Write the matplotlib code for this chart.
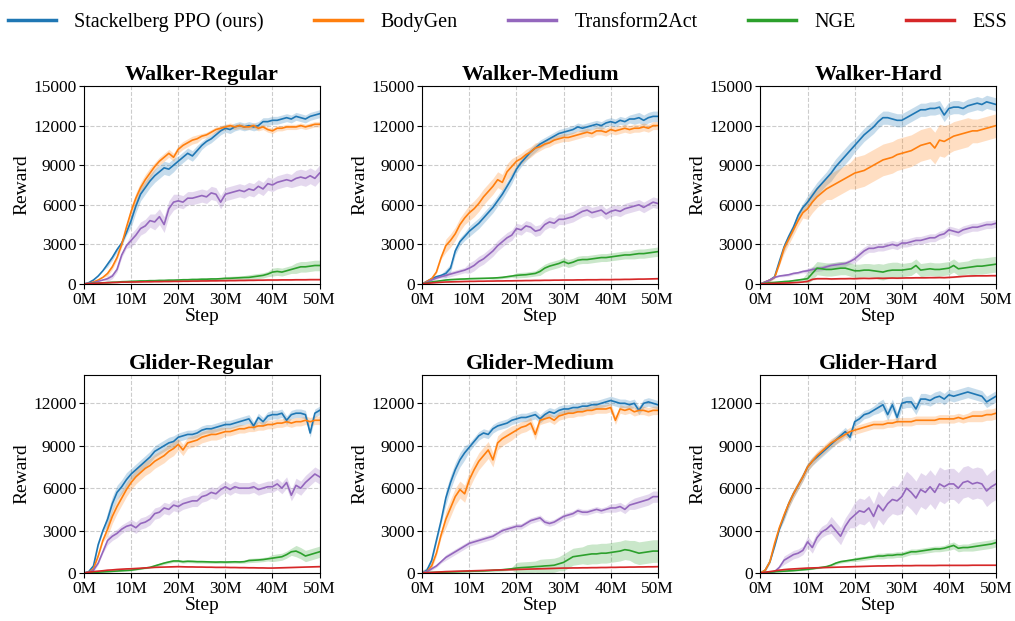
import numpy as np
import matplotlib
matplotlib.use("Agg")
import matplotlib.pyplot as plt

plt.rcParams['font.family'] = 'serif'
plt.rcParams['font.serif'] = ['Liberation Serif', 'DejaVu Serif']

steps = np.arange(51)  # millions of steps

method_names = ['Stackelberg PPO (ours)', 'BodyGen', 'Transform2Act', 'NGE', 'ESS']
method_colors = ['#1f77b4', '#ff7f0e', '#9467bd', '#2ca02c', '#d62728']
panel_titles = ['Walker-Regular', 'Walker-Medium', 'Walker-Hard',
                'Glider-Regular', 'Glider-Medium', 'Glider-Hard']

# ---------------- Walker-Regular ----------------
wr_sppo = [0, 100, 300, 600, 1000, 1500, 2000, 2600, 3100, 3900, 4800,
           5900, 6800, 7300, 7800, 8200, 8500, 8800, 8700, 9000, 9300,
           9600, 9900, 9700, 10100, 10500, 10800, 11000, 11300, 11600, 11800,
           11700, 11900, 12000, 11900, 12000, 11900, 12000, 12300, 12300, 12400,
           12400, 12500, 12600, 12500, 12700, 12600, 12500, 12700, 12800, 12900]
wr_bodygen = [0, 50, 150, 300, 500, 800, 1300, 2000, 3000, 4300, 5500,
              6500, 7300, 7900, 8400, 8900, 9300, 9600, 9900, 9600, 10200,
              10500, 10700, 10900, 11000, 11200, 11300, 11500, 11700, 11800, 11900,
              12000, 11900, 12000, 11900, 11900, 12000, 11800, 11900, 11700, 11600,
              11800, 11800, 11900, 11900, 11900, 12000, 11900, 12000, 12100, 12100]
wr_t2a = [0, 50, 100, 200, 300, 400, 600, 1100, 2200, 2900, 3300,
          3700, 4200, 4400, 4800, 4700, 5100, 4500, 5700, 6200, 6300,
          6200, 6500, 6500, 6600, 6700, 6600, 6900, 6800, 6200, 6800,
          6900, 7000, 7100, 7000, 7200, 7100, 7400, 7200, 7600, 7500,
          7700, 7800, 7900, 7800, 8000, 8100, 8000, 8200, 8000, 8400]
wr_nge = [0, 20, 50, 60, 90, 100, 130, 140, 170, 180, 200,
          210, 230, 230, 250, 250, 270, 270, 290, 290, 300,
          320, 320, 340, 340, 360, 360, 380, 380, 400, 420,
          430, 450, 470, 490, 500, 550, 600, 650, 750, 900,
          950, 900, 1000, 1100, 1200, 1300, 1300, 1350, 1400, 1400]
wr_ess = [0, 20, 40, 60, 80, 100, 110, 120, 140, 140, 150,
          150, 160, 170, 170, 180, 180, 190, 190, 200, 200,
          210, 210, 220, 220, 230, 230, 240, 240, 250, 250,
          260, 260, 270, 270, 280, 280, 290, 290, 300, 300,
          300, 310, 310, 310, 320, 320, 320, 330, 330, 330]

# ---------------- Walker-Medium ----------------
wm_sppo = [0, 200, 400, 550, 650, 800, 1200, 2500, 3200, 3600, 4000,
           4300, 4600, 5000, 5400, 5800, 6300, 6800, 7400, 8000, 8700,
           9200, 9600, 10000, 10300, 10600, 10800, 11000, 11200, 11400, 11500,
           11600, 11700, 11900, 11800, 11900, 12000, 12100, 12000, 12200, 12300,
           12200, 12400, 12300, 12500, 12500, 12600, 12400, 12600, 12700, 12700]
wm_bodygen = [0, 200, 400, 900, 2000, 2900, 3300, 3800, 4500, 5000, 5400,
              5700, 6100, 6600, 7000, 7400, 7900, 7700, 8500, 8900, 9300,
              9500, 9800, 10000, 10300, 10400, 10600, 10700, 10900, 11000, 11100,
              11100, 11200, 11300, 11400, 11500, 11400, 11600, 11600, 11500, 11700,
              11600, 11700, 11800, 11700, 11800, 11800, 11900, 11800, 12000, 12000]
wm_t2a = [0, 150, 300, 450, 550, 650, 750, 850, 950, 1050, 1200,
          1400, 1700, 1900, 2200, 2500, 2900, 3200, 3500, 3700, 4200,
          4100, 4400, 4300, 4000, 4100, 4500, 4700, 4600, 4900, 4900,
          5000, 5100, 5300, 5500, 5600, 5400, 5500, 5600, 5300, 5500,
          5600, 5500, 5700, 5800, 5900, 6000, 5800, 6000, 6200, 6100]
wm_nge = [0, 80, 150, 200, 250, 300, 330, 350, 370, 380, 400,
          410, 420, 430, 440, 450, 470, 500, 550, 600, 650,
          680, 700, 750, 800, 950, 1200, 1350, 1450, 1550, 1700,
          1550, 1650, 1800, 1850, 1850, 1900, 1950, 2000, 2000, 2050,
          2100, 2150, 2200, 2200, 2250, 2300, 2300, 2350, 2400, 2450]
wm_ess = [0, 50, 80, 110, 130, 150, 160, 170, 180, 190, 200,
          200, 210, 210, 220, 220, 230, 230, 240, 240, 250,
          250, 260, 260, 270, 270, 280, 280, 290, 290, 300,
          300, 300, 310, 310, 320, 320, 320, 330, 330, 330,
          340, 340, 350, 350, 360, 370, 370, 380, 390, 400]

# ---------------- Walker-Hard ----------------
wh_sppo = [0, 150, 300, 550, 1700, 2800, 3600, 4300, 5200, 5800, 6200,
           6700, 7200, 7600, 8000, 8400, 8900, 9300, 9700, 10100, 10500,
           10900, 11300, 11600, 11900, 12300, 12600, 12600, 12500, 12400, 12400,
           12600, 12800, 13000, 13200, 13200, 13300, 13300, 13400, 12800, 13300,
           13400, 13400, 13300, 13500, 13600, 13700, 13600, 13800, 13700, 13600]
wh_bodygen = [0, 150, 300, 500, 1500, 2700, 3400, 4100, 4800, 5400, 5700,
              6200, 6600, 6900, 7200, 7400, 7600, 7800, 8000, 8200, 8400,
              8500, 8600, 8800, 9000, 9200, 9400, 9500, 9600, 9800, 9900,
              10000, 10100, 10300, 10500, 10600, 10700, 10300, 10900, 10800, 11000,
              11200, 11300, 11400, 11500, 11600, 11600, 11700, 11800, 11900, 12000]
wh_t2a = [0, 150, 300, 500, 600, 650, 700, 800, 850, 950, 1000,
          1100, 1150, 1200, 1300, 1400, 1450, 1500, 1550, 1700, 1900,
          2200, 2500, 2700, 2700, 2800, 2800, 2900, 3000, 2900, 3100,
          3100, 3200, 3300, 3300, 3400, 3500, 3500, 3700, 3800, 4100,
          4000, 3900, 4100, 4200, 4300, 4300, 4400, 4500, 4500, 4600]
wh_nge = [0, 50, 100, 120, 150, 180, 200, 250, 300, 350, 400,
          800, 1200, 1150, 1100, 1100, 1150, 1200, 1200, 1100, 1000,
          1000, 1050, 1050, 1000, 950, 900, 1000, 1050, 1050, 1050,
          1100, 1150, 1400, 1050, 1100, 1150, 1100, 1100, 1150, 1200,
          1400, 1150, 1200, 1250, 1300, 1350, 1350, 1400, 1450, 1500]
wh_ess = [0, 20, 40, 50, 60, 70, 80, 100, 120, 150, 200,
          350, 400, 400, 400, 380, 390, 400, 400, 410, 400,
          420, 430, 420, 430, 440, 430, 440, 450, 440, 450,
          460, 460, 470, 470, 470, 480, 480, 490, 480, 500,
          520, 550, 580, 600, 610, 620, 620, 620, 630, 630]

# ---------------- Glider-Regular ----------------
gr_sppo = [0, 100, 500, 2000, 3000, 3800, 4900, 5700, 6100, 6600, 7000,
           7300, 7600, 7900, 8200, 8600, 8800, 9000, 9200, 9300, 9600,
           9700, 9800, 9800, 9900, 10100, 10200, 10200, 10300, 10400, 10500,
           10500, 10600, 10700, 10800, 10900, 10400, 11000, 10700, 11100, 11200,
           11200, 11300, 10800, 11200, 11300, 11300, 11200, 9900, 11300, 11500]
gr_bodygen = [0, 50, 300, 1200, 2300, 3100, 4000, 4700, 5300, 5900, 6400,
              6800, 7100, 7400, 7600, 7900, 8100, 8300, 8600, 8800, 9100,
              8700, 9200, 9300, 9400, 9600, 9700, 9800, 9800, 9900, 10000,
              10000, 10100, 10200, 10200, 10300, 10300, 10400, 10400, 10500, 10500,
              10600, 10600, 10700, 10600, 10700, 10700, 10800, 10700, 10800, 10800]
gr_t2a = [0, 50, 200, 700, 1500, 2300, 2600, 2800, 3100, 3300, 3400,
          3200, 3500, 3600, 3800, 4200, 4300, 4600, 4500, 4800, 4700,
          4900, 5000, 5100, 5100, 5400, 5500, 5700, 5600, 5900, 6100,
          5900, 6100, 6000, 6000, 6000, 6100, 5900, 6000, 6100, 6100,
          6300, 6000, 6400, 5500, 6200, 6000, 6400, 6700, 7000, 6800]
gr_nge = [0, 20, 40, 60, 80, 100, 120, 140, 160, 180, 200,
          250, 300, 350, 400, 500, 600, 700, 780, 850, 850,
          800, 830, 820, 800, 800, 790, 780, 770, 780, 770,
          780, 790, 780, 800, 880, 900, 920, 950, 1000, 1050,
          1100, 1150, 1300, 1500, 1550, 1400, 1200, 1300, 1400, 1500]
gr_ess = [0, 50, 100, 130, 160, 200, 220, 250, 270, 290, 300,
          320, 340, 360, 380, 400, 410, 420, 430, 440, 450,
          440, 430, 430, 420, 420, 410, 410, 400, 400, 400,
          390, 390, 380, 380, 370, 370, 360, 360, 350, 350,
          360, 370, 380, 390, 400, 410, 420, 430, 440, 450]

# ---------------- Glider-Medium ----------------
gm_sppo = [0, 200, 900, 2300, 3700, 5300, 6400, 7300, 8000, 8500, 8900,
           9300, 9700, 9900, 9800, 10200, 10400, 10500, 10600, 10800, 10900,
           11000, 11000, 11100, 11200, 10900, 11200, 11400, 11300, 11500, 11600,
           11600, 11700, 11700, 11800, 11800, 11900, 11900, 12000, 12100, 12200,
           12100, 12000, 12000, 11900, 12000, 11500, 12000, 12100, 12000, 11900]
gm_bodygen = [0, 100, 500, 1400, 2700, 3800, 4600, 5400, 5900, 5600, 6600,
              7300, 7900, 8300, 8700, 8000, 9200, 9500, 9700, 9900, 10100,
              10300, 10400, 10600, 9800, 10800, 10900, 11000, 10800, 11100, 11200,
              11300, 11300, 11400, 11400, 11500, 11500, 11600, 11600, 11600, 11700,
              10800, 11600, 11500, 11600, 11400, 11500, 11500, 11400, 11500, 11500]
gm_t2a = [0, 100, 300, 500, 800, 1100, 1300, 1500, 1700, 1900, 2100,
          2200, 2300, 2400, 2500, 2600, 2800, 3000, 3100, 3200, 3300,
          3300, 3500, 3700, 3800, 3900, 3600, 3500, 3600, 3800, 4000,
          4100, 4200, 4400, 4300, 4300, 4400, 4500, 4400, 4500, 4600,
          4600, 4700, 4500, 4800, 4900, 5000, 5100, 5200, 5400, 5400]
gm_nge = [0, 20, 40, 50, 60, 70, 80, 90, 100, 110, 120,
          130, 140, 150, 170, 190, 210, 230, 260, 300, 350,
          380, 400, 420, 450, 470, 500, 520, 550, 650, 750,
          950, 1150, 1200, 1250, 1300, 1350, 1350, 1400, 1400, 1450,
          1500, 1550, 1650, 1600, 1500, 1400, 1450, 1500, 1550, 1550]
gm_ess = [0, 20, 40, 60, 80, 100, 110, 120, 130, 140, 150,
          160, 170, 180, 190, 200, 210, 220, 230, 240, 250,
          260, 270, 280, 290, 300, 310, 320, 330, 340, 350,
          350, 360, 360, 370, 370, 380, 380, 390, 390, 400,
          400, 410, 410, 420, 420, 430, 430, 440, 440, 450]

# ---------------- Glider-Hard ----------------
gh_sppo = [0, 200, 800, 1900, 3100, 4000, 4900, 5600, 6200, 6800, 7500,
           7900, 8200, 8500, 8800, 9100, 9400, 9700, 10000, 9600, 10700,
           10900, 11200, 11300, 11500, 11700, 11900, 11200, 11900, 11000, 12000,
           12100, 12100, 11600, 12300, 12300, 12200, 12400, 12500, 12300, 12600,
           12500, 12600, 12700, 12800, 12700, 12600, 12500, 12100, 12300, 12500]
gh_bodygen = [0, 200, 800, 2100, 3200, 4100, 4900, 5600, 6200, 6800, 7500,
              7900, 8300, 8600, 8900, 9200, 9400, 9600, 9800, 10000, 10100,
              10200, 10300, 10400, 10500, 10500, 10500, 10600, 10600, 10700, 10700,
              10700, 10700, 10800, 10800, 10800, 10800, 10800, 10900, 10900, 10900,
              10900, 11000, 10900, 11000, 11100, 11100, 11100, 11200, 11200, 11300]
gh_t2a = [0, 30, 60, 100, 400, 900, 1100, 1300, 1400, 1600, 2200,
          1800, 2500, 2900, 3100, 3400, 3000, 2600, 3300, 3800, 4100,
          4400, 4300, 4600, 4000, 4800, 4400, 4900, 5200, 5100, 5400,
          6000, 5700, 5300, 5900, 5700, 6100, 5700, 6300, 6100, 6300,
          6300, 6000, 6400, 6500, 6300, 6400, 6300, 5800, 6100, 6300]
gh_nge = [0, 30, 60, 90, 110, 130, 150, 170, 200, 230, 260,
          300, 350, 400, 450, 550, 700, 800, 850, 900, 950,
          1000, 1050, 1100, 1150, 1200, 1200, 1250, 1250, 1300, 1300,
          1400, 1500, 1500, 1550, 1600, 1650, 1700, 1700, 1750, 1850,
          1950, 1750, 1800, 1800, 1850, 1900, 1950, 2000, 2050, 2150]
gh_ess = [0, 50, 100, 150, 200, 240, 270, 290, 310, 330, 350,
          360, 370, 380, 390, 400, 410, 420, 430, 440, 450,
          460, 470, 480, 490, 500, 500, 510, 510, 520, 520,
          520, 520, 530, 530, 530, 530, 530, 540, 540, 540,
          540, 540, 540, 540, 550, 550, 550, 550, 550, 550]

# shaded band half-widths, one value per 5M block (last value covers 50M)
wr_spread = [[0, 200, 500, 500, 400, 300, 300, 300, 300, 300, 300],
             [0, 200, 400, 300, 300, 200, 200, 200, 200, 200, 200],
             [0, 200, 500, 600, 500, 500, 500, 500, 500, 600, 600],
             [0, 50, 50, 50, 100, 100, 150, 200, 300, 400, 400],
             [0, 30, 50, 50, 50, 50, 50, 50, 50, 50, 50]]
wm_spread = [[100, 300, 400, 400, 300, 300, 300, 300, 300, 400, 400],
             [100, 500, 600, 600, 400, 300, 300, 300, 300, 300, 300],
             [100, 200, 400, 400, 400, 400, 400, 400, 400, 400, 400],
             [50, 50, 50, 100, 200, 300, 300, 300, 300, 350, 350],
             [20, 30, 30, 30, 30, 30, 30, 30, 30, 30, 30]]
wh_spread = [[100, 300, 500, 600, 500, 500, 500, 500, 500, 500, 500],
             [100, 400, 800, 1000, 1200, 1200, 1200, 1200, 1100, 900, 900],
             [50, 100, 200, 200, 300, 300, 300, 300, 300, 300, 300],
             [50, 100, 500, 500, 500, 600, 500, 500, 500, 600, 600],
             [20, 30, 50, 50, 50, 50, 50, 50, 50, 50, 50]]
gr_spread = [[100, 500, 400, 400, 300, 300, 300, 300, 300, 300, 300],
             [100, 500, 500, 500, 400, 400, 300, 300, 300, 300, 300],
             [100, 300, 400, 400, 400, 400, 400, 400, 400, 500, 500],
             [30, 50, 50, 100, 100, 100, 100, 150, 250, 400, 400],
             [20, 30, 30, 30, 30, 30, 30, 30, 30, 30, 30]]
gm_spread = [[200, 500, 300, 300, 300, 300, 300, 300, 300, 300, 300],
             [200, 600, 600, 500, 400, 300, 300, 300, 300, 300, 300],
             [100, 200, 200, 200, 200, 200, 200, 200, 300, 400, 400],
             [30, 50, 50, 100, 400, 500, 600, 700, 700, 800, 800],
             [20, 20, 20, 30, 30, 30, 30, 30, 30, 30, 30]]
gh_spread = [[100, 300, 300, 300, 300, 400, 400, 400, 400, 400, 400],
             [100, 300, 300, 300, 300, 300, 300, 300, 300, 400, 400],
             [50, 300, 400, 600, 900, 1000, 1200, 1200, 1100, 1100, 1100],
             [30, 50, 50, 100, 150, 200, 200, 200, 250, 300, 300],
             [20, 30, 30, 30, 30, 30, 30, 30, 30, 30, 30]]

panel_curves = [
    [wr_sppo, wr_bodygen, wr_t2a, wr_nge, wr_ess],
    [wm_sppo, wm_bodygen, wm_t2a, wm_nge, wm_ess],
    [wh_sppo, wh_bodygen, wh_t2a, wh_nge, wh_ess],
    [gr_sppo, gr_bodygen, gr_t2a, gr_nge, gr_ess],
    [gm_sppo, gm_bodygen, gm_t2a, gm_nge, gm_ess],
    [gh_sppo, gh_bodygen, gh_t2a, gh_nge, gh_ess],
]
panel_spreads = [wr_spread, wm_spread, wh_spread, gr_spread, gm_spread, gh_spread]

fig, axes = plt.subplots(2, 3, figsize=(10.15, 6.21), dpi=100)
fig.subplots_adjust(left=0.0828, right=0.9813, bottom=0.0773, top=0.8615,
                    wspace=0.436, hspace=0.46)

block = steps // 5
handles = []
for k, ax in enumerate(axes.flat):
    for m in range(5):
        y = np.array(panel_curves[k][m], dtype=float)
        w = np.array(panel_spreads[k][m], dtype=float)[block]
        ax.fill_between(steps, np.clip(y - w, 0, None), y + w,
                        color=method_colors[m], alpha=0.25, linewidth=0)
        line, = ax.plot(steps, y, color=method_colors[m], linewidth=1.2,
                        label=method_names[m])
        if k == 0:
            handles.append(line)

    ax.set_title(panel_titles[k], fontsize=16, fontweight='bold', pad=4)
    ax.set_xlim(0, 50)
    ax.set_xticks(range(0, 51, 10))
    ax.set_xticklabels([f'{v}M' for v in range(0, 51, 10)])
    if k < 3:
        ax.set_ylim(0, 15000)
        ax.set_yticks(range(0, 15001, 3000))
    else:
        ax.set_ylim(0, 14000)
        ax.set_yticks(range(0, 12001, 3000))
    ax.tick_params(labelsize=12.5, length=3.5, pad=2)
    ax.set_xlabel('Step', fontsize=14, labelpad=0)
    ax.set_ylabel('Reward', fontsize=14, labelpad=2)
    ax.grid(True, linestyle='--', color='#cccccc', linewidth=0.8)
    ax.set_axisbelow(True)

leg = fig.legend(handles, method_names, loc='upper center', ncol=5,
                 frameon=False, bbox_to_anchor=(0.5, 1.01), fontsize=14.5,
                 handlelength=2.4, columnspacing=2.5, handletextpad=0.9)
for lh in leg.get_lines():
    lh.set_linewidth(2.5)

fig.savefig('out.png', dpi=100)
